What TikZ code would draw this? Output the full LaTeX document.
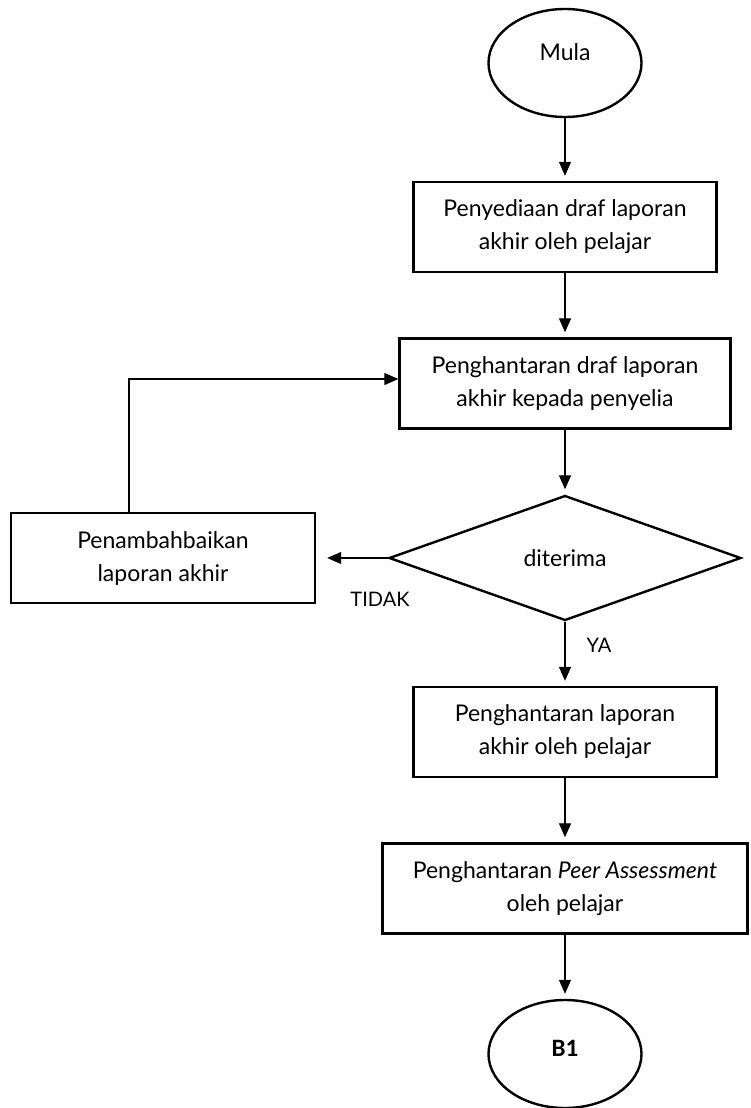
\documentclass[tikz,border=0pt]{standalone}
\usepackage{fontspec}
\setmainfont{Lato}
\newfontfamily\bfont{Carlito}
\usetikzlibrary{shapes.geometric, arrows.meta}

\begin{document}
\begin{tikzpicture}[x=1pt,y=-1pt,->,>={Triangle[length=14pt,width=12pt]},shorten >=5pt,line width=1.2pt,
    box/.style={draw,rectangle,line width=2.4pt,align=center,minimum height=90pt,font=\fontsize{23}{33}\selectfont},
    term/.style={draw,ellipse,line width=2.4pt,minimum width=153pt,minimum height=108pt,font=\fontsize{23}{33}\selectfont},
    decision/.style={draw,diamond,line width=2.4pt,minimum width=352pt,minimum height=125pt,font=\fontsize{23}{33}\selectfont},
    lbl/.style={font=\fontsize{20}{24}\selectfont}]
                \useasboundingbox (0,0) rectangle (750,1108);
                \node[term,text depth=22pt] (mula) at (565,63) {Mula};
                \node[box,minimum width=303pt] (s1) at (565,227) {Penyediaan draf laporan\\akhir oleh pelajar};
                \node[box,minimum width=331pt] (s2) at (565,383.5) {Penghantaran draf laporan\\akhir kepada penyelia};
                \node[decision] (dec) at (565,558) {diterima};
                \node[box,minimum width=304pt] (fix) at (163,558) {Penambahbaikan\\laporan akhir};
                \node[box,minimum width=303pt] (s3) at (565,732) {Penghantaran laporan\\akhir oleh pelajar};
                \node[box,minimum width=365pt] (s4) at (565,888.5) {Penghantaran \textit{Peer Assessment}\\oleh pelajar};
                \node[term,text depth=12pt,font=\bfont\bfseries\fontsize{25}{30}\selectfont] (b1) at (565,1054) {B1};
                \node[lbl] (tidak) at (380,599) {TIDAK};
                \node[lbl] (ya) at (599,645) {YA};
                \coordinate (corner) at (129,379);

                \path
                (mula) edge (s1)
                (s1) edge (s2)
                (s2) edge (dec)
                (dec) edge (s3)
                (dec.west) edge[shorten >=11pt] (fix.east)
                (s3) edge (s4)
                (s4) edge (b1)
                ;
                \draw[shorten >=0pt] (fix.north -| corner) -- (corner) -- (corner -| s2.west);
            \end{tikzpicture}
\end{document}
